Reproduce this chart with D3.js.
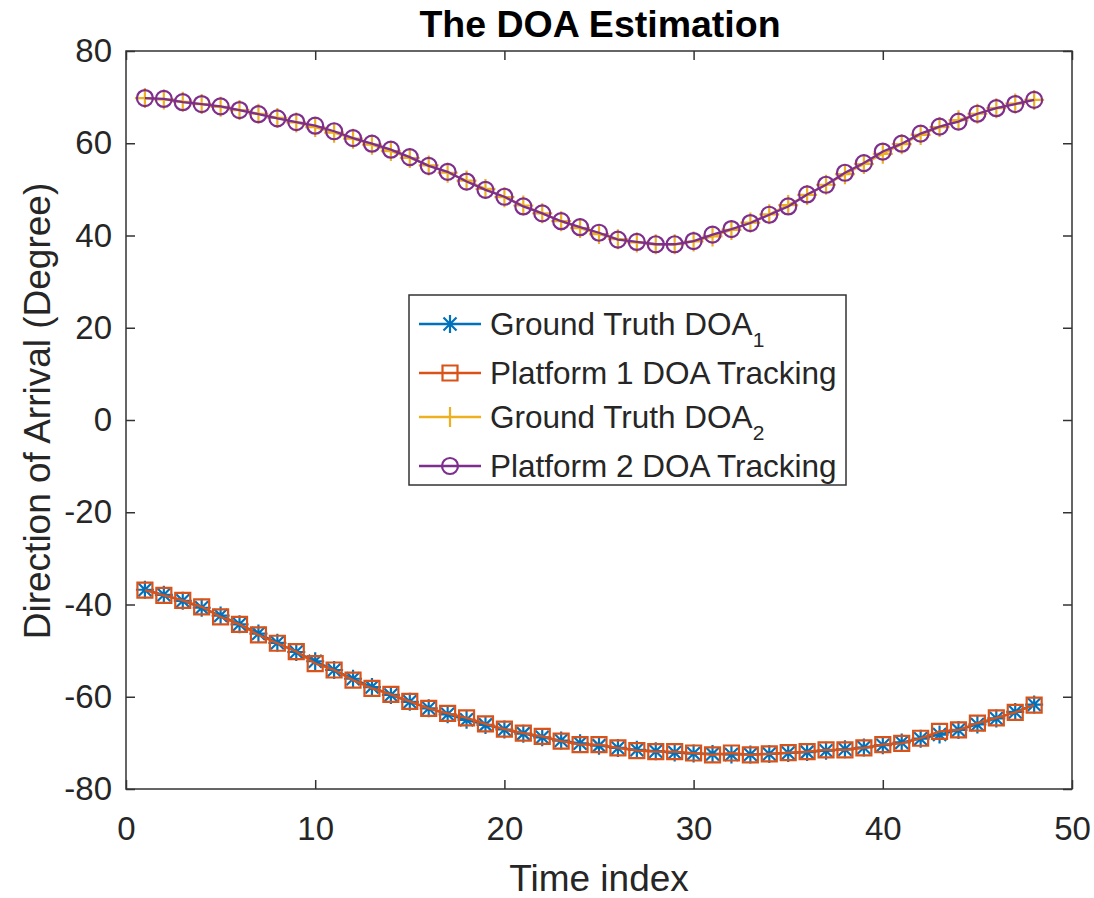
<!DOCTYPE html>
<html>
<head>
<meta charset="utf-8">
<script src="https://cdn.jsdelivr.net/npm/d3@7"></script>
<style>
  body { margin: 0; background: #fff; }
  text { font-family: "Liberation Sans", Arial, Helvetica, sans-serif; }
</style>
</head>
<body>
<svg id="svg1"></svg>
<script>
// time index 1..48
var timeIndex = d3.range(1, 49);

// DOA of target 1 (degrees)
var groundTruth1 = [-36.8,-37.9,-39.2,-40.7,-42.4,-44.3,-46.3,-48.3,-50.3,-52.3,-54.2,-56.1,
  -57.9,-59.6,-61.1,-62.5,-63.8,-65.0,-66.1,-67.1,-68.0,-68.8,-69.5,-70.1,
  -70.6,-71.1,-71.5,-71.8,-72.1,-72.3,-72.4,-72.5,-72.5,-72.4,-72.2,-72.0,
  -71.7,-71.4,-71.0,-70.5,-69.9,-69.1,-68.2,-67.2,-66.0,-64.7,-63.3,-61.7];
var tracking1 = [-36.9,-38.0,-39.1,-40.5,-42.7,-44.3,-46.6,-48.4,-50.2,-52.8,-54.2,-56.4,
  -58.2,-59.5,-61.0,-62.5,-63.6,-64.6,-65.9,-67.0,-67.9,-68.6,-69.6,-70.4,
  -70.4,-71.1,-71.7,-71.9,-71.9,-72.2,-72.6,-72.2,-72.6,-72.4,-72.1,-71.9,
  -71.5,-71.5,-71.1,-70.4,-70.1,-69.0,-67.5,-67.2,-65.7,-64.6,-63.4,-61.8];

// DOA of target 2 (degrees)
var groundTruth2 = [69.8,69.5,69.0,68.5,67.9,67.2,66.4,65.5,64.5,63.5,62.3,61.0,
  59.7,58.3,56.8,55.2,53.6,51.9,50.1,48.3,46.5,44.8,43.1,41.6,
  40.3,39.2,38.5,38.1,38.1,38.7,39.8,41.2,42.8,44.6,46.6,48.8,
  51.0,53.3,55.5,57.7,59.8,61.8,63.5,65.0,66.4,67.6,68.6,69.4];
var tracking2 = [69.8,69.6,68.9,68.5,68.0,67.2,66.3,65.4,64.6,63.8,62.6,61.1,
  59.9,58.6,57.0,55.1,53.8,51.7,49.9,48.4,46.3,44.8,43.1,41.8,
  40.6,39.1,38.6,38.1,38.1,38.8,40.2,41.4,42.7,44.5,46.3,48.9,
  51.0,53.6,55.7,58.2,59.9,62.1,63.6,64.7,66.4,67.6,68.5,69.4];

var xTicks = [0, 10, 20, 30, 40, 50];
var yTicks = [-80, -60, -40, -20, 0, 20, 40, 60, 80];

var seriesNames = ["Ground Truth DOA", "Platform 1 DOA Tracking", "Ground Truth DOA", "Platform 2 DOA Tracking"];
var seriesSubs = ["1", "", "2", ""];
var seriesColors = ["#0072BD", "#D95319", "#EDB120", "#7E2F8E"];
var seriesMarkers = ["asterisk", "square", "plus", "circle"];
var seriesValues = [groundTruth1, tracking1, groundTruth2, tracking2];

var margin = {top: 51, right: 22, bottom: 109, left: 126};
var width = 1094 - margin.left - margin.right;
var height = 898 - margin.top - margin.bottom;
var axisColor = "#333333";

function markerPath(type) {
  if (type == "asterisk") return "M0,-9V9M-9,0H9M-6.5,-6.5L6.5,6.5M-6.5,6.5L6.5,-6.5";
  if (type == "plus") return "M0,-10V10M-10,0H10";
  if (type == "square") return "M-7.5,-7.5H7.5V7.5H-7.5Z";
  return d3.symbol().type(d3.symbolCircle).size(Math.PI * 8 * 8)();
}

function chart1(){
  var svg = d3.select("#svg1")
    .attr('width', 1094)
    .attr('height', 898)
    .append('g')
      .attr('transform', 'translate(' + margin.left + ',' + margin.top + ')');

  var x = d3.scaleLinear().domain([0, 50]).range([0, width]);
  var y = d3.scaleLinear().domain([-80, 80]).range([height, 0]);

  // title + labels
  svg.append('text')
    .attr('x', width/2 + 1)
    .attr('y', -14)
    .attr('text-anchor', 'middle')
    .style('font-size', '37.5px')
    .style('font-weight', 'bold')
    .attr('fill', '#000')
    .text('The DOA Estimation');
  svg.append('text')
    .attr('x', width/2)
    .attr('y', height + 102)
    .attr('text-anchor', 'middle')
    .style('font-size', '37px')
    .attr('fill', '#262626')
    .text('Time index');
  svg.append('text')
    .attr('transform', 'translate(' + (50 - margin.left) + ',' + (411 - margin.top) + ') rotate(-90)')
    .attr('text-anchor', 'middle')
    .style('font-size', '37px')
    .attr('fill', '#262626')
    .text('Direction of Arrival (Degree)');

  // axes (ticks inside, box on)
  function styleAxis(g) {
    g.select('.domain').remove();
    g.selectAll('line').attr('stroke', axisColor).attr('stroke-width', 1.5);
    g.selectAll('text').attr('fill', '#262626').style('font-size', '33px')
      .style('font-family', '"Liberation Sans", Arial, sans-serif');
  }
  var fmt = function(d) { return String(d); };
  svg.append('g')
    .attr('transform', 'translate(0,' + height + ')')
    .call(d3.axisBottom(x).tickValues(xTicks).tickFormat(fmt).tickSizeInner(-9).tickSizeOuter(0).tickPadding(28))
    .call(styleAxis);
  svg.append('g')
    .call(d3.axisTop(x).tickValues(xTicks).tickSizeInner(-9).tickSizeOuter(0).tickFormat(''))
    .call(styleAxis);
  svg.append('g')
    .call(d3.axisLeft(y).tickValues(yTicks).tickFormat(fmt).tickSizeInner(-9).tickSizeOuter(0).tickPadding(14))
    .call(styleAxis);
  svg.append('g')
    .attr('transform', 'translate(' + width + ',0)')
    .call(d3.axisRight(y).tickValues(yTicks).tickSizeInner(-9).tickSizeOuter(0).tickFormat(''))
    .call(styleAxis);
  svg.append('rect')
    .attr('width', width)
    .attr('height', height)
    .attr('fill', 'none')
    .attr('stroke', axisColor)
    .attr('stroke-width', 1.5);

  // series lines + markers
  var line = d3.line()
    .x(function(d, i) { return x(timeIndex[i]); })
    .y(function(d) { return y(d); });

  seriesValues.forEach(function(vals, s) {
    svg.append('path')
      .datum(vals)
      .attr('fill', 'none')
      .attr('stroke', seriesColors[s])
      .attr('stroke-width', 2.3)
      .attr('d', line);
    svg.selectAll('.mk' + s)
      .data(vals)
      .enter()
      .append('path')
      .attr('class', 'mk' + s)
      .attr('transform', function(d, i) { return 'translate(' + x(timeIndex[i]) + ',' + y(d) + ')'; })
      .attr('d', markerPath(seriesMarkers[s]))
      .attr('fill', 'none')
      .attr('stroke', seriesColors[s])
      .attr('stroke-width', 2.2);
  });

  // legend
  var leg = svg.append('g')
    .attr('transform', 'translate(' + (409 - margin.left) + ',' + (295 - margin.top) + ')');
  leg.append('rect')
    .attr('width', 437)
    .attr('height', 190)
    .attr('fill', '#fff')
    .attr('stroke', axisColor)
    .attr('stroke-width', 1.5);
  var rowY = [29, 78, 122, 171];
  var item = leg.selectAll('.item')
    .data(seriesNames)
    .enter()
    .append('g')
    .attr('class', 'item')
    .attr('transform', function(d, i) { return 'translate(0,' + rowY[i] + ')'; });
  item.append('line')
    .attr('x1', 10).attr('x2', 72)
    .attr('stroke', function(d, i) { return seriesColors[i]; })
    .attr('stroke-width', 2.3);
  item.append('path')
    .attr('transform', 'translate(41,0)')
    .attr('d', function(d, i) { return markerPath(seriesMarkers[i]); })
    .attr('fill', 'none')
    .attr('stroke', function(d, i) { return seriesColors[i]; })
    .attr('stroke-width', 2.2);
  var txt = item.append('text')
    .attr('x', 81)
    .attr('y', 11)
    .attr('fill', '#262626')
    .style('font-size', '31.5px')
    .text(function(d) { return d; });
  txt.append('tspan')
    .attr('dy', 12)
    .style('font-size', '21px')
    .text(function(d, i) { return seriesSubs[i]; });
}

chart1();
</script>
</body>
</html>
